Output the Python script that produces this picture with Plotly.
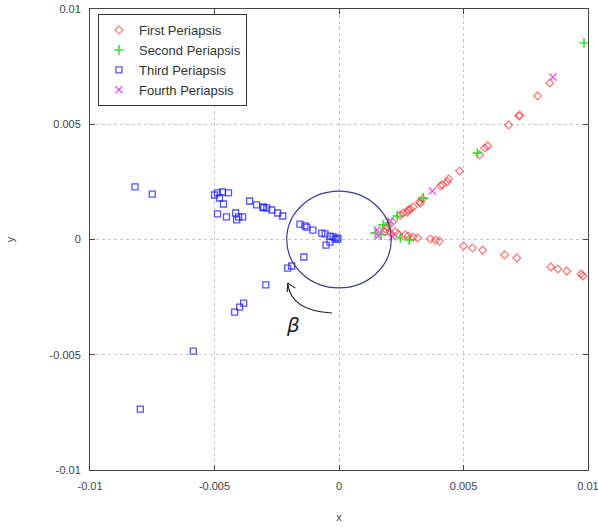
import plotly.graph_objects as go

# ---- data ----
first_x = [0.00847, 0.00798, 0.00726, 0.00722, 0.00681, 0.00597, 0.00585, 0.00565, 0.00484, 0.00440,
           0.00435, 0.00415, 0.00407, 0.00335, 0.00327, 0.00323, 0.00298, 0.00286, 0.00278, 0.00274,
           0.00258, 0.00246, 0.00214, 0.00194, 0.00185,
           0.00185, 0.00206, 0.00226, 0.00238, 0.00266, 0.00278, 0.00298, 0.00315, 0.00367, 0.00387,
           0.00403, 0.00500, 0.00536, 0.00577, 0.00665, 0.00714, 0.00851, 0.00879, 0.00915, 0.00972, 0.00980]
first_y = [0.00679, 0.00623, 0.00540, 0.00536, 0.00497, 0.00406, 0.00397, 0.00367, 0.00297, 0.00263,
           0.00250, 0.00237, 0.00232, 0.00176, 0.00158, 0.00163, 0.00141, 0.00132, 0.00128, 0.00119,
           0.00115, 0.00106, 0.00076, 0.00054, 0.00046,
           0.00033, 0.00028, 0.00033, 0.00024, 0.00020, 0.00015, 0.00011, 0.00007, 0.00002, -0.00002,
           -0.00007, -0.00028, -0.00037, -0.00046, -0.00067, -0.00080, -0.00119, -0.00128, -0.00137, -0.00150, -0.00158]

second_x = [0.00984, 0.00556, 0.00339, 0.00234, 0.00198, 0.00177, 0.00145, 0.00246, 0.00282, 0.00169]
second_y = [0.00853, 0.00375, 0.00180, 0.00102, 0.00072, 0.00063, 0.00028, 0.00007, -0.00002, 0.00020]

third_x = [-0.00819, -0.00750, -0.00500, -0.00488, -0.00468, -0.00444, -0.00480, -0.00464, -0.00488, -0.00452,
           -0.00415, -0.00411, -0.00403, -0.00387, -0.00359, -0.00331, -0.00306, -0.00302, -0.00290, -0.00270,
           -0.00246, -0.00226, -0.00157, -0.00137, -0.00129, -0.00105, -0.00069, -0.00056, -0.00036, -0.00024,
           -0.00008, -0.00004, -0.00016, -0.00052, -0.00036, -0.00141, -0.00206, -0.00190, -0.00294, -0.00383,
           -0.00399, -0.00419, -0.00585, -0.00798]
third_y = [0.00228, 0.00197, 0.00193, 0.00202, 0.00206, 0.00202, 0.00180, 0.00154, 0.00111, 0.00098,
           0.00115, 0.00085, 0.00098, 0.00098, 0.00167, 0.00150, 0.00141, 0.00137, 0.00137, 0.00128,
           0.00115, 0.00102, 0.00067, 0.00059, 0.00054, 0.00041, 0.00028, 0.00024, 0.00015, 0.00011,
           0.00007, 0.00002, 0.00002, -0.00024, -0.00011, -0.00076, -0.00124, -0.00115, -0.00197, -0.00276,
           -0.00293, -0.00315, -0.00484, -0.00736]

fourth_x = [0.00859, 0.00375, 0.00206, 0.00153, 0.00214, 0.00157]
fourth_y = [0.00705, 0.00210, 0.00080, 0.00041, 0.00011, 0.00015]

tick_vals = [-0.01, -0.005, 0, 0.005, 0.01]
tick_text = ["-0.01", "-0.005", "0", "0.005", "0.01"]

circle_r = 0.0021

fig = go.Figure()
fig.add_trace(go.Scatter(x=first_x, y=first_y, mode="markers", name="First Periapsis",
                         marker=dict(symbol="diamond-open", size=6, color="rgba(255,40,40,0.6)",
                                     line=dict(width=1.3))))
fig.add_trace(go.Scatter(x=second_x, y=second_y, mode="markers", name="Second Periapsis",
                         marker=dict(symbol="cross-thin-open", size=7, color="#22dd22",
                                     line=dict(width=1.4, color="#22dd22"))))
fig.add_trace(go.Scatter(x=third_x, y=third_y, mode="markers", name="Third Periapsis",
                         marker=dict(symbol="square-open", size=6, color="rgba(30,30,255,0.75)",
                                     line=dict(width=1.3))))
fig.add_trace(go.Scatter(x=fourth_x, y=fourth_y, mode="markers", name="Fourth Periapsis",
                         marker=dict(symbol="x-thin-open", size=7, color="#ee55ee",
                                     line=dict(width=1.4, color="#ee55ee"))))

# circle
fig.add_shape(type="circle", xref="x", yref="y", x0=-circle_r, x1=circle_r, y0=-circle_r, y1=circle_r,
              line=dict(color="#3c3c8c", width=1.2), layer="above")
# curved arrow
fig.add_shape(type="path", xref="x", yref="y",
              path="M -0.00028,-0.00319 Q -0.00195,-0.00310 -0.00206,-0.00189",
              line=dict(color="#222222", width=1.1))
fig.add_shape(type="line", xref="x", yref="y", x0=-0.00206, y0=-0.00189, x1=-0.00208, y1=-0.00228,
              line=dict(color="#222222", width=1.1))
fig.add_shape(type="line", xref="x", yref="y", x0=-0.00206, y0=-0.00189, x1=-0.00175, y1=-0.00211,
              line=dict(color="#222222", width=1.1))
fig.add_annotation(x=-0.00185, y=-0.00371, xref="x", yref="y", text="<i>β</i>", showarrow=False,
                   font=dict(family="DejaVu Sans", size=20, color="#222222"))

axis_common = dict(
    tickvals=tick_vals, ticktext=tick_text, range=[-0.01, 0.01],
    showgrid=True, gridcolor="#c8c8c8", griddash="3px,3px", gridwidth=1,
    showline=True, linecolor="#444444", linewidth=1, mirror="ticks",
    ticks="inside", ticklen=5, tickcolor="#444444",
    zeroline=False, ticklabeloverflow="allow", automargin=False,
    tickfont=dict(family="Liberation Sans, Arial", size=11, color="#444444"),
)

fig.update_xaxes(**axis_common, title=dict(text="x", font=dict(family="Liberation Sans, Arial", size=11, color="#444444"), standoff=22))
fig.update_yaxes(**axis_common, title=dict(text="y", font=dict(family="Liberation Sans, Arial", size=11, color="#444444"), standoff=32))
fig.update_xaxes(ticklabelstandoff=6)
fig.update_yaxes(ticklabelstandoff=6)

fig.update_layout(
    width=598, height=532,
    margin=dict(l=90, r=10, t=9, b=62),
    plot_bgcolor="white", paper_bgcolor="white",
    showlegend=True,
    legend=dict(x=0.016, y=0.989, xanchor="left", yanchor="top",
                bgcolor="white", bordercolor="#333333", borderwidth=1,
                font=dict(family="Liberation Sans, Arial", size=13, color="#333333"),
                itemwidth=30, tracegroupgap=4),
)

fig.write_html("out.html", config={"displayModeBar": False},
               post_script="document.body.style.margin='0';document.body.style.overflow='hidden';")
